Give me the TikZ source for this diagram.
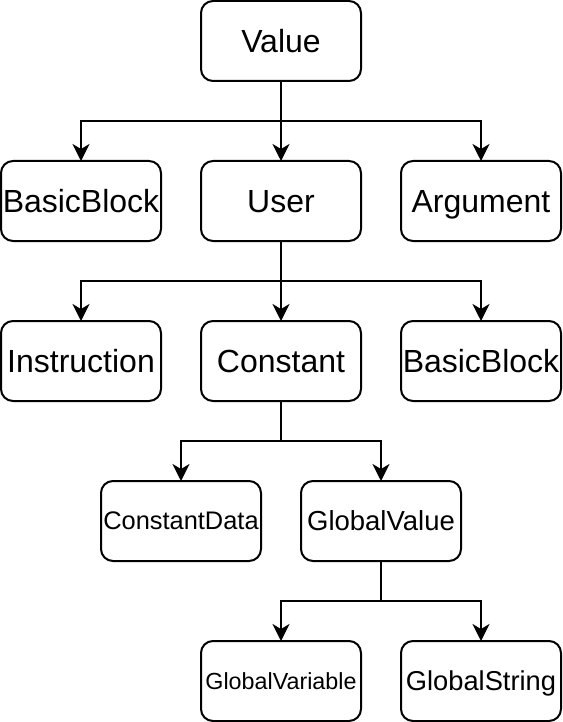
\documentclass[tikz,border=0pt]{standalone}
\usepackage{fontspec}
\setmainfont{Liberation Sans}
\usetikzlibrary{positioning,arrows.meta}

\tikzset{
	fs/.style 2 args={font=\fontsize{#1}{#1}\selectfont, text height=#2, text depth=0pt},
	box/.style={draw, line width=2pt, rounded corners=12pt, minimum width=160pt, minimum height=80pt, inner sep=0pt, outer sep=0pt, fs={32}{22.2pt}},
	link/.style={line width=2pt, -{Stealth[length=17pt,width=17pt,inset=5pt]}},
	line/.style={line width=2pt}
}

\begin{document}
\begin{tikzpicture}[x=1pt, y=1pt, node distance=80pt and 40pt]
	\useasboundingbox (0,0) rectangle (562,-722);

	\node[box]	(value)	at (281,-41)	{Value};
	\node[box, below=of value]	(user)	{User};
	\node[box, left=of user]	(bblock)	{BasicBlock};
	\node[box, right=of user]	(argument)	{Argument};
	\node[box, below=of user]	(constant)	{Constant};
	\node[box, left=of constant]	(instruction)	{Instruction};
	\node[box, right=of constant]	(bblock2)	{BasicBlock};
	\node[box, below=of constant, xshift=-100pt, fs={25.4}{17.6pt}]	(cdata)	{ConstantData};
	\node[box, right=of cdata, fs={27.5}{19.1pt}]	(gvalue)	{GlobalValue};
	\node[box, below=of gvalue, xshift=-100pt, fs={23.3}{16.1pt}]	(gvariable)	{GlobalVariable};
	\node[box, right=of gvariable, fs={27.3}{18.9pt}]	(gstring)	{GlobalString};

	\coordinate[below=40pt of value.south]	(fork1);
	\coordinate[below=40pt of user.south]	(fork2);
	\coordinate[below=40pt of constant.south]	(fork3);
	\coordinate[below=40pt of gvalue.south]	(fork4);

	\draw[line]	(value)	--	(fork1);
	\draw[link]	(fork1)	-|	(bblock);
	\draw[link]	(fork1)	--	(user);
	\draw[link]	(fork1)	-|	(argument);

	\draw[line]	(user)	--	(fork2);
	\draw[link]	(fork2)	-|	(instruction);
	\draw[link]	(fork2)	--	(constant);
	\draw[link]	(fork2)	-|	(bblock2);

	\draw[line]	(constant)	--	(fork3);
	\draw[link]	(fork3)	-|	(cdata);
	\draw[link]	(fork3)	-|	(gvalue);

	\draw[line]	(gvalue)	--	(fork4);
	\draw[link]	(fork4)	-|	(gvariable);
	\draw[link]	(fork4)	-|	(gstring);

\end{tikzpicture}
\end{document}
